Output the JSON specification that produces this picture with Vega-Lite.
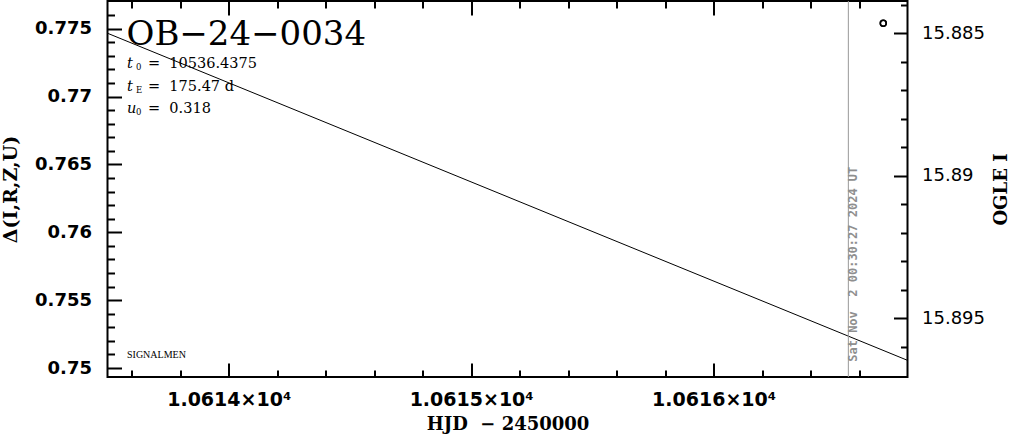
{
  "$schema": "https://vega.github.io/schema/vega-lite/v6.json",
  "autosize": {"type": "none"},
  "padding": {"left": 107.5, "top": 1, "right": 103.5, "bottom": 57},
  "width": 800,
  "height": 376,
  "background": "white",
  "config": {
    "view": {"stroke": "black", "strokeWidth": 2},
    "axis": {"domain": false, "grid": false, "tickColor": "black", "tickWidth": 2, "labelColor": "black", "titleColor": "black"}
  },
  "datasets": {
    "curve": [{"hjd": 10613.5, "delta": 0.774662}, {"hjd": 10616.8, "delta": 0.750566}],
    "title": [{"hjd": 10613.5784, "delta": 0.7738, "text": "OB−24−0034"}],
    "params": [
      {"hjd": 10613.5804, "delta": 0.77211, "sym": "t", "sub": "0", "val": "=\u00a0\u00a010536.4375"},
      {"hjd": 10613.5804, "delta": 0.770382, "sym": "t", "sub": "E", "val": "=\u00a0\u00a0175.47\u00a0d"},
      {"hjd": 10613.5804, "delta": 0.768801, "sym": "u", "sub": "0", "val": "=\u00a0\u00a00.318"}
    ],
    "credit": [{"hjd": 10613.5804, "delta": 0.750713, "text": "SIGNALMEN"}],
    "now": [{"hjd": 10616.556, "delta": 0.75035, "text": "Sat\u00a0Nov\u00a0\u00a02\u00a000:30:27\u00a02024\u00a0UT"}],
    "obs": [{"hjd": 10616.7, "mag": 15.88465}]
  },
  "resolve": {"scale": {"y": "independent"}, "axis": {"x": "independent", "y": "independent"}},
  "layer": [
    {
      "data": {"name": "curve"},
      "mark": {"type": "line", "color": "black", "strokeWidth": 1},
      "encoding": {
        "x": {"field": "hjd", "type": "quantitative", "scale": {"domain": [10613.5, 10616.8], "nice": false, "zero": false},
          "axis": {"orient": "bottom", "values": [10614, 10615, 10616], "tickSize": -14, "labelPadding": 27,
            "labelExpr": "format(datum.value/10000,'.4f') + '×10⁴'", "labelFont": "DejaVu Sans", "labelFontWeight": "bold", "labelFontSize": 19,
            "title": "HJD\u00a0\u00a0−\u00a02450000", "titleFont": "DejaVu Serif", "titleFontWeight": "bold", "titleFontSize": 18, "titlePadding": 6}},
        "y": {"field": "delta", "type": "quantitative", "scale": {"domain": [0.749338, 0.777037], "nice": false, "zero": false},
          "axis": {"orient": "left", "values": [0.75, 0.755, 0.76, 0.765, 0.77, 0.775], "tickSize": -14, "labelPadding": 30,
            "labelExpr": "format(datum.value,'.3~f')", "labelFont": "DejaVu Sans", "labelFontWeight": "bold", "labelFontSize": 18,
            "title": "Δ(I,R,Z,U)", "titleFont": "DejaVu Serif", "titleFontWeight": "bold", "titleFontSize": 19, "titlePadding": 14}}
      }
    },
    {
      "data": {"name": "title"},
      "mark": {"type": "text", "align": "left", "baseline": "alphabetic", "font": "DejaVu Serif", "fontSize": 34, "color": "black"},
      "encoding": {
        "x": {"field": "hjd", "type": "quantitative", "scale": {"domain": [10613.5, 10616.8], "nice": false, "zero": false},
          "axis": {"orient": "bottom", "values": [10613.6, 10613.8, 10614.2, 10614.4, 10614.6, 10614.8, 10615.2, 10615.4, 10615.6, 10615.8, 10616.2, 10616.4, 10616.6], "tickSize": -7, "labels": false, "title": null}},
        "y": {"field": "delta", "type": "quantitative", "scale": {"domain": [0.749338, 0.777037], "nice": false, "zero": false},
          "axis": {"orient": "left", "values": [0.751, 0.752, 0.753, 0.754, 0.756, 0.757, 0.758, 0.759, 0.761, 0.762, 0.763, 0.764, 0.766, 0.767, 0.768, 0.769, 0.771, 0.772, 0.773, 0.774, 0.776], "tickSize": -7, "labels": false, "title": null}},
        "text": {"field": "text"}
      }
    },
    {
      "data": {"name": "params"},
      "mark": {"type": "text", "align": "left", "baseline": "alphabetic", "font": "DejaVu Serif", "fontStyle": "italic", "fontSize": 14.5, "color": "black"},
      "encoding": {
        "x": {"field": "hjd", "type": "quantitative", "scale": {"domain": [10613.5, 10616.8], "nice": false, "zero": false},
          "axis": {"orient": "top", "values": [10614, 10615, 10616], "tickSize": -14, "labels": false, "title": null}},
        "y": {"field": "delta", "type": "quantitative", "scale": {"domain": [0.749338, 0.777037], "nice": false, "zero": false}, "axis": null},
        "text": {"field": "sym"}
      }
    },
    {
      "data": {"name": "params"},
      "mark": {"type": "text", "align": "left", "baseline": "alphabetic", "font": "DejaVu Serif", "fontSize": 8.5, "dx": 9, "dy": 2, "color": "black"},
      "encoding": {
        "x": {"field": "hjd", "type": "quantitative", "scale": {"domain": [10613.5, 10616.8], "nice": false, "zero": false},
          "axis": {"orient": "top", "values": [10613.6, 10613.8, 10614.2, 10614.4, 10614.6, 10614.8, 10615.2, 10615.4, 10615.6, 10615.8, 10616.2, 10616.4, 10616.6], "tickSize": -7, "labels": false, "title": null}},
        "y": {"field": "delta", "type": "quantitative", "scale": {"domain": [0.749338, 0.777037], "nice": false, "zero": false}, "axis": null},
        "text": {"field": "sub"}
      }
    },
    {
      "data": {"name": "params"},
      "mark": {"type": "text", "align": "left", "baseline": "alphabetic", "font": "DejaVu Serif", "fontSize": 14.5, "dx": 21, "color": "black"},
      "encoding": {
        "x": {"field": "hjd", "type": "quantitative", "scale": {"domain": [10613.5, 10616.8], "nice": false, "zero": false}, "axis": null},
        "y": {"field": "delta", "type": "quantitative", "scale": {"domain": [0.749338, 0.777037], "nice": false, "zero": false}, "axis": null},
        "text": {"field": "val"}
      }
    },
    {
      "data": {"name": "credit"},
      "mark": {"type": "text", "align": "left", "baseline": "alphabetic", "font": "Liberation Serif", "fontSize": 10, "color": "black"},
      "encoding": {
        "x": {"field": "hjd", "type": "quantitative", "scale": {"domain": [10613.5, 10616.8], "nice": false, "zero": false}, "axis": null},
        "y": {"field": "delta", "type": "quantitative", "scale": {"domain": [0.749338, 0.777037], "nice": false, "zero": false}, "axis": null},
        "text": {"field": "text"}
      }
    },
    {
      "data": {"name": "now"},
      "mark": {"type": "rule", "color": "#999999", "strokeWidth": 1},
      "encoding": {
        "x": {"field": "hjd", "type": "quantitative", "scale": {"domain": [10613.5, 10616.8], "nice": false, "zero": false}, "axis": null}
      }
    },
    {
      "data": {"name": "now"},
      "mark": {"type": "text", "align": "left", "baseline": "top", "angle": 270, "dx": 1.5, "font": "DejaVu Sans Mono", "fontWeight": "bold", "fontSize": 12, "color": "#8f8f8f"},
      "encoding": {
        "x": {"field": "hjd", "type": "quantitative", "scale": {"domain": [10613.5, 10616.8], "nice": false, "zero": false}, "axis": null},
        "y": {"field": "delta", "type": "quantitative", "scale": {"domain": [0.749338, 0.777037], "nice": false, "zero": false}, "axis": null},
        "text": {"field": "text"}
      }
    },
    {
      "data": {"name": "obs"},
      "mark": {"type": "point", "shape": "circle", "filled": false, "size": 35, "strokeWidth": 1.5, "color": "black", "opacity": 1},
      "encoding": {
        "x": {"field": "hjd", "type": "quantitative", "scale": {"domain": [10613.5, 10616.8], "nice": false, "zero": false}, "axis": null},
        "y": {"field": "mag", "type": "quantitative", "scale": {"domain": [15.883867, 15.89706], "reverse": true, "nice": false, "zero": false},
          "axis": {"orient": "right", "values": [15.885, 15.89, 15.895], "tickSize": -14, "labelPadding": 28,
            "labelExpr": "format(datum.value,'.3~f')", "labelFont": "DejaVu Sans", "labelFontSize": 18,
            "title": "OGLE I", "titleAngle": 270, "titleFont": "DejaVu Serif", "titleFontWeight": "bold", "titleFontSize": 18, "titlePadding": 26}}
      }
    },
    {
      "data": {"name": "obs"},
      "mark": {"type": "point", "shape": "circle", "filled": false, "size": 35, "strokeWidth": 1.5, "color": "black", "opacity": 1},
      "encoding": {
        "x": {"field": "hjd", "type": "quantitative", "scale": {"domain": [10613.5, 10616.8], "nice": false, "zero": false}, "axis": null},
        "y": {"field": "mag", "type": "quantitative", "scale": {"domain": [15.883867, 15.89706], "reverse": true, "nice": false, "zero": false},
          "axis": {"orient": "right", "values": [15.884, 15.886, 15.887, 15.888, 15.889, 15.891, 15.892, 15.893, 15.894, 15.896], "tickSize": -7, "labels": false, "title": null}}
      }
    }
  ]
}
